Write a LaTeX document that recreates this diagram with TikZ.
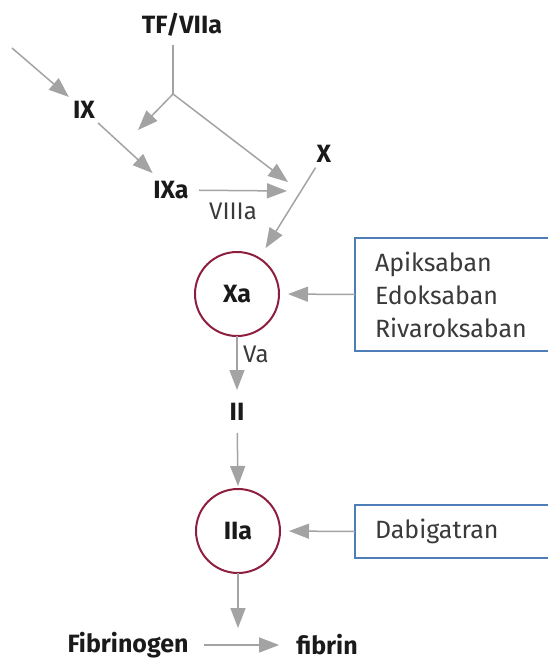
\documentclass[tikz,border=0pt]{standalone}
\usepackage{fontspec}
\setmainfont{Fira Sans}
\usetikzlibrary{arrows.meta}
\definecolor{arrgray}{HTML}{A3A3A3}
\definecolor{ringred}{HTML}{8E1E3E}
\definecolor{boxblue}{HTML}{4F7DB8}
\definecolor{txtdark}{HTML}{1A1A1A}
\definecolor{txtgray}{HTML}{3A3A3A}
\tikzset{
  arr/.style={draw=arrgray, line width=1.5pt, -{Triangle[length=20pt,width=15pt]}},
  plain/.style={draw=arrgray, line width=1.5pt},
  lbl/.style={font=\fontsize{25}{28}\selectfont\bfseries, text=txtdark, inner sep=0pt},
  small/.style={font=\fontsize{24}{28}\selectfont, text=txtgray, inner sep=0pt},
  ring/.style={circle, draw=ringred, line width=2pt, minimum size=84pt, inner sep=0pt, outer sep=0pt, font=\fontsize{25}{28}\selectfont\bfseries, text=txtdark},
  drugbox/.style={draw=boxblue, line width=2pt, fill=white, text width=180pt, align=left, inner xsep=20pt, inner ysep=0pt, outer sep=0pt, font=\fontsize{25}{33}\selectfont, text=txtgray, anchor=west}
}
\begin{document}
\begin{tikzpicture}[x=1pt,y=-1pt]
\useasboundingbox (0,0) rectangle (547,662);
% labels
\node[lbl] (TF) at (182,25) {TF/VIIa};
\node[lbl] (IX) at (84,110) {IX};
\node[lbl] (IXa) at (171,190) {IXa};
\node[lbl] (X) at (324,154) {X};
\node[small] (VIIIa) at (233,211) {VIIIa};
\node[ring] (Xa) at (237,294) {Xa};
\node[small, anchor=west] (Va) at (243,354) {Va};
\node[lbl] (II) at (237,412) {II};
\node[ring] (IIa) at (238,531) {IIa};
\node[lbl] (Fg) at (128,645) {Fibrinogen};
\node[lbl] (Fb) at (327,645) {fibrin};
% drug boxes
\node[drugbox, minimum height=113pt] (B1) at (355,294.5) {Apiksaban\\Edoksaban\\Rivaroksaban};
\node[drugbox, minimum height=53pt] (B2) at (355,531.5) {Dabigatran};
% coordinates
\coordinate (start) at (12,48);
\coordinate (tfb) at (173,45);
\coordinate (jt) at (173,94);
\coordinate (ixin) at (138,130);
\coordinate (xin) at (288,182);
\coordinate (viiiin) at (287,191);
\coordinate (fa) at (238,628);
% connectors
\draw[arr, shorten >=20pt] (start) -- (IX.center);
\draw[plain] (tfb) -- (jt);
\draw[arr] (jt) -- (ixin);
\draw[arr] (jt) -- (xin);
\draw[arr, shorten <=19pt, shorten >=25pt] (IX.center) -- (IXa.center);
\draw[arr, shorten <=28pt] (IXa.center) -- (viiiin);
\draw[arr, shorten <=16pt, shorten >=54pt] (X.center) -- (Xa.center);
\draw[arr, shorten >=9pt] (B1.west) -- (Xa.east);
\draw[arr, shorten >=22pt] (Xa.south) -- (II.center);
\draw[arr, shorten <=21pt, shorten >=3pt] (II.center) -- (IIa.north);
\draw[arr, shorten >=9pt] (B2.west) -- (IIa.east);
\draw[arr] (IIa.south) -- (fa);
\draw[arr, shorten <=15pt, shorten >=17pt] (Fg.east) -- (Fb.west);
\end{tikzpicture}
\end{document}
